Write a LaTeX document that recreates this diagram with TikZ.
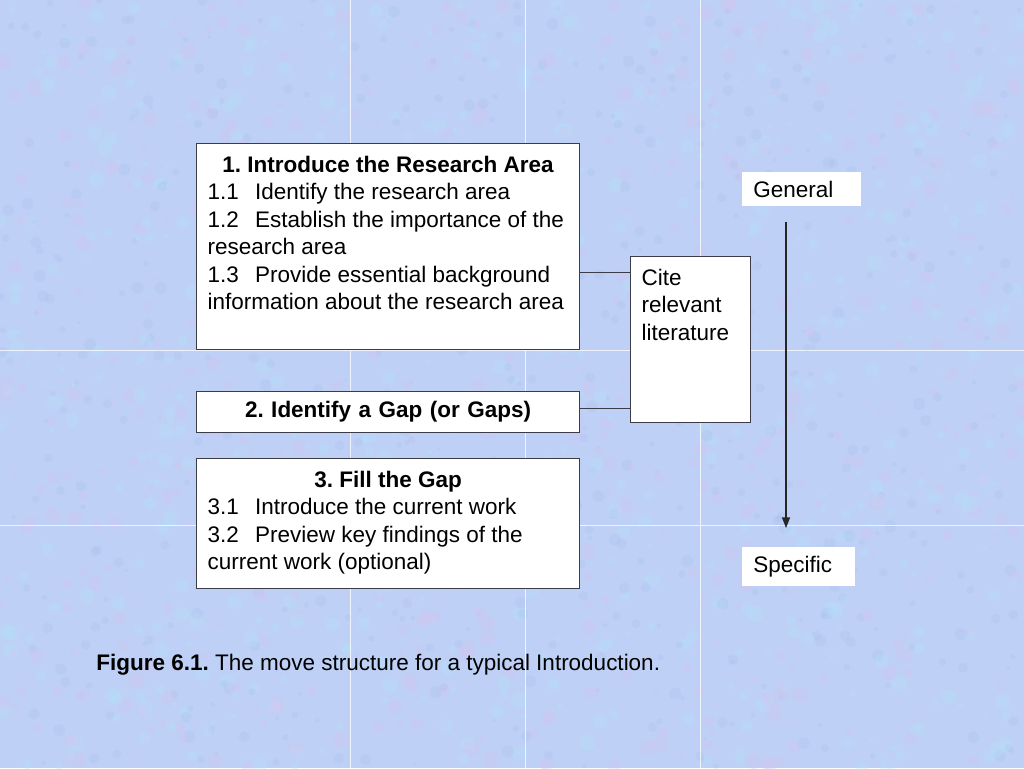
\documentclass[tikz,border=0pt]{standalone}
\usepackage{fontspec}
\setmainfont{Liberation Sans}
\usepackage{tikz}
\usetikzlibrary{arrows.meta}
\definecolor{paper}{RGB}{190,208,245}
\definecolor{pinkspot}{RGB}{216,196,240}
\definecolor{bluespot}{RGB}{178,226,250}
\definecolor{deepspot}{RGB}{168,190,238}
\definecolor{edge}{RGB}{60,60,72}
\newcommand{\widthmove}{7.22cm}
\newcommand{\widthcite}{1.96cm}
\newcommand{\pad}[1]{\rule[-#1]{0pt}{#1}}
\newcommand{\subnum}[1]{#1\hspace{.72em}}
\newcommand{\movetitle}[1]{\makebox[\hsize]{\bfseries #1}}
\frenchspacing
\tikzset{
    common/.style={anchor=north west, rectangle, fill=white, inner xsep=0.22cm, inner ysep=7.1pt},
    move/.style={common, draw=edge, line width=.7pt, text width=\widthmove, align=flush left},
    cite/.style={move, text width=\widthcite},
    tag/.style={common, inner ysep=5pt, minimum height=0.66cm, align=flush left},
    link/.style={edge, line width=.7pt},
    flow/.style={-{Triangle[width=4.5pt, length=6pt]}, line width=.8pt, black!85},
    seam/.style={white, line width=.5pt, opacity=.75}
}
\begin{document}
\begin{tikzpicture}[x=0.02cm, y=-0.02cm, font=\fontsize{12.8}{15.6}\selectfont]
    \useasboundingbox (0,0) rectangle (1024,768);
    \fill[paper] (0,0) rectangle (1024,768);
    \pgfmathsetseed{42}
    \foreach \i in {1,...,600} {
        \fill[pinkspot, opacity=.3] (rnd*1024, rnd*768) circle[radius={1.2pt+rnd*3.5pt}];
        \fill[bluespot, opacity=.3] (rnd*1024, rnd*768) circle[radius={1.2pt+rnd*3.5pt}];
        \fill[deepspot, opacity=.25] (rnd*1024, rnd*768) circle[radius={1pt+rnd*2.5pt}];
    }
    \draw[seam] (350,0) -- (350,768) (525,0) -- (525,768) (700,0) -- (700,768)
                (0,350) -- (1024,350) (0,525) -- (1024,525);

    \node[move] (intro) at (196,143) {\movetitle{1. Introduce the Research Area}\\
        \subnum{1.1}Identify the research area\\
        \subnum{1.2}Establish the importance of the\\
        research area\\
        \subnum{1.3}Provide essential background\\
        information about the research area\pad{15.7pt}};
    \node[move, align=center, inner ysep=5pt, minimum height=0.82cm] (gap) at (196,391)
        {\textbf{2. Identify a Gap (or Gaps)}};
    \node[move] (fill) at (196,458) {\movetitle{3. Fill the Gap}\\
        \subnum{3.1}Introduce the current work\\
        \subnum{3.2}Preview key findings of the\\
        current work (optional)\pad{3.6pt}};
    \node[cite] (cite) at (630,256) {Cite\\relevant\\literature\pad{39.7pt}};

    \node[tag, text width=1.94cm] (general) at (742,172) {General};
    \node[tag, text width=1.82cm] (specific) at (742,547) {Specific};
    \node[anchor=base west, inner sep=0] (caption) at (96,670)
        {\textbf{Figure 6.1.} The move structure for a typical Introduction.};

    \coordinate (intro-link) at ([yshift=-0.52cm]intro.east);
    \coordinate (gap-link) at ([yshift=0.08cm]gap.east);
    \draw[link] (intro-link) -- (intro-link -| cite.west);
    \draw[link] (gap-link) -- (gap-link -| cite.west);

    \coordinate (flow-top) at (786,222);
    \coordinate (flow-end) at (786,528);
    \draw[flow] (flow-top) -- (flow-end);
\end{tikzpicture}
\end{document}
